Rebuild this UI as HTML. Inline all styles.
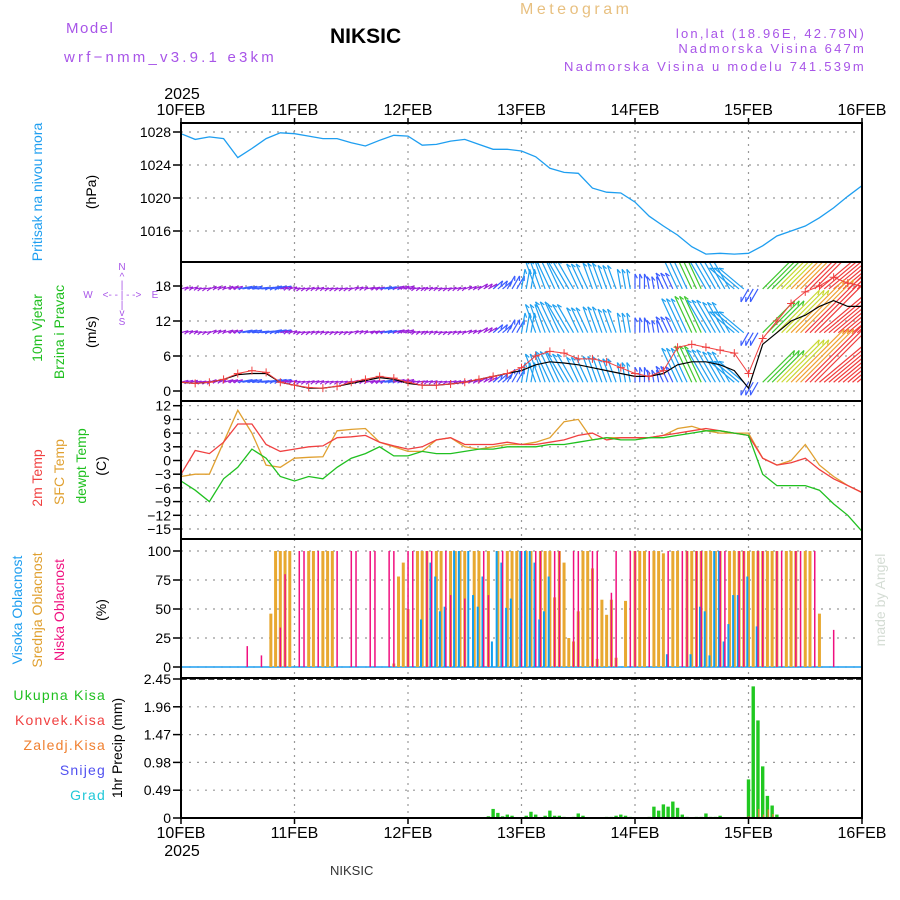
<!DOCTYPE html>
<html>
<head>
<meta charset="utf-8">
<style>
html,body{margin:0;padding:0;background:#fff;}
svg{display:block;}
text{font-family:"Liberation Sans",sans-serif;}
</style>
</head>
<body>
<svg id="chart" width="900" height="900" viewBox="0 0 900 900" xmlns="http://www.w3.org/2000/svg">
  <defs>
    <clipPath id="windclip"><rect x="181" y="263" width="681" height="137"/></clipPath>
  </defs>
  <!-- Header -->
  <text x="66" y="33" font-size="15" fill="#a855e8" letter-spacing="1.5">Model</text>
  <text x="64" y="62" font-size="15" fill="#a855e8" letter-spacing="3.2">wrf−nmm_v3.9.1  e3km</text>
  <text x="330" y="43" font-size="21" font-weight="bold" fill="#000">NIKSIC</text>
  <text x="520" y="14" font-size="16" fill="#e8c080" letter-spacing="3.5">Meteogram</text>
  <text x="866" y="38" font-size="13" fill="#a855e8" text-anchor="end" letter-spacing="2.2">lon,lat (18.96E, 42.78N)</text>
  <text x="866" y="53" font-size="13" fill="#a855e8" text-anchor="end" letter-spacing="2.2">Nadmorska Visina 647m</text>
  <text x="866" y="71" font-size="13" fill="#a855e8" text-anchor="end" letter-spacing="2.3">Nadmorska Visina u modelu 741.539m</text>

  <!-- Left axis titles -->
  <text transform="translate(42,192) rotate(-90)" font-size="14" fill="#1e9ef0" text-anchor="middle">Pritisak na nivou mora</text>
  <text transform="translate(96,192) rotate(-90)" font-size="14" fill="#000" text-anchor="middle">(hPa)</text>
  <text transform="translate(42,328) rotate(-90)" font-size="14" fill="#20c020" text-anchor="middle">10m Vjetar</text>
  <text transform="translate(64,332) rotate(-90)" font-size="14" fill="#20c020" text-anchor="middle">Brzina i Pravac</text>
  <text transform="translate(96,332) rotate(-90)" font-size="14" fill="#000" text-anchor="middle">(m/s)</text>
  <text transform="translate(42,478) rotate(-90)" font-size="14" fill="#f04040" text-anchor="middle">2m Temp</text>
  <text transform="translate(64,472) rotate(-90)" font-size="14" fill="#e0a030" text-anchor="middle">SFC Temp</text>
  <text transform="translate(86,466) rotate(-90)" font-size="14" fill="#20c020" text-anchor="middle">dewpt Temp</text>
  <text transform="translate(106,466) rotate(-90)" font-size="14" fill="#000" text-anchor="middle">(C)</text>
  <text transform="translate(22,610) rotate(-90)" font-size="14" fill="#1e9ef0" text-anchor="middle">Visoka Oblacnost</text>
  <text transform="translate(42,610) rotate(-90)" font-size="14" fill="#e0a030" text-anchor="middle">Srednja Oblacnost</text>
  <text transform="translate(64,610) rotate(-90)" font-size="14" fill="#f0107f" text-anchor="middle">Niska Oblacnost</text>
  <text transform="translate(106,610) rotate(-90)" font-size="14" fill="#000" text-anchor="middle">(%)</text>
  <text transform="translate(122,748) rotate(-90)" font-size="14" fill="#000" text-anchor="middle">1hr Precip (mm)</text>

  <!-- precip legend -->
  <text x="106" y="700" font-size="14" fill="#20c020" text-anchor="end" letter-spacing="1.2">Ukupna Kisa</text>
  <text x="106" y="725" font-size="14" fill="#f04040" text-anchor="end" letter-spacing="1.2">Konvek.Kisa</text>
  <text x="106" y="750" font-size="14" fill="#f08030" text-anchor="end" letter-spacing="1.2">Zaledj.Kisa</text>
  <text x="106" y="775" font-size="14" fill="#5050f0" text-anchor="end" letter-spacing="1.2">Snijeg</text>
  <text x="106" y="800" font-size="14" fill="#20c8d8" text-anchor="end" letter-spacing="1.2">Grad</text>

  <!-- compass -->
  <g fill="#a855e8" font-size="10" text-anchor="middle">
    <text x="122" y="270">N</text>
    <text x="122" y="280">^</text>
    <text x="122" y="288">|</text>
    <text x="88" y="298">W</text>
    <text x="122" y="298">&lt;- - | - -&gt;</text>
    <text x="155" y="298">E</text>
    <text x="122" y="308">|</text>
    <text x="122" y="316">v</text>
    <text x="122" y="325">S</text>
  </g>

  <text transform="translate(885,600) rotate(-90)" font-size="14" fill="#d4dcd4" text-anchor="middle" font-family="Liberation Serif, serif">made by Angel</text>
  <text x="330" y="875" font-size="13" fill="#333" font-family="Liberation Serif, serif">NIKSIC</text>

  <g id="plot"></g>
</svg>
<script>
// ---------------- DATA ----------------
const days = ["10FEB","11FEB","12FEB","13FEB","14FEB","15FEB","16FEB"];
const stepHours = 3;
const pressure = [1027.8,1027.1,1027.4,1027.2,1024.9,1026.0,1027.2,1027.9,
 1027.8,1027.5,1027.2,1027.2,1026.7,1026.3,1027.0,1027.6,
 1027.5,1026.4,1026.5,1026.9,1027.1,1026.5,1025.9,1025.9,
 1025.7,1025.0,1023.6,1023.1,1023.0,1021.2,1020.7,1020.6,
 1019.5,1017.8,1016.6,1015.5,1014.1,1013.2,1013.3,1013.2,
 1013.3,1014.2,1015.4,1016.0,1016.6,1017.6,1018.8,1020.2,1021.5];
const windSpeed = [1.5,1.3,1.5,2.0,3.0,3.5,3.2,1.5,
 1.0,0.6,0.5,0.8,1.5,2.0,2.5,2.2,
 1.5,1.0,1.0,1.2,1.5,2.0,2.5,3.0,
 4.0,6.0,6.8,6.5,5.5,5.5,5.0,4.0,
 3.0,2.5,3.5,7.5,8.0,7.5,7.0,6.5,
 3.0,9.0,12.0,15.0,17.0,18.0,19.5,18.5,18.0];
const windSpeed2 = [1.5,1.3,1.5,2.0,2.8,3.0,3.0,1.5,
 1.0,0.5,0.5,0.8,1.3,1.8,2.3,2.0,
 1.3,1.0,1.0,1.2,1.5,2.0,2.5,3.0,
 3.5,4.5,5.0,4.8,4.5,4.0,3.5,3.0,
 2.5,2.5,3.0,4.5,5.0,5.0,4.5,3.5,
 0.5,8.0,10.0,12.0,13.0,14.5,15.5,14.5,14.5];
const windDir = [15,10,20,15,10,5,10,15,
 10,15,10,10,15,10,10,15,
 10,15,10,15,20,30,40,60,
 80,110,115,120,115,110,110,100,
 90,100,115,115,115,120,120,140,
 240,45,45,45,45,40,40,40,40];
const windRows = [17.5, 10, 1.5];
const temp2m = [-3,2.2,1.5,4.0,8.0,8.0,3.5,2.0,
 2.5,3.0,3.2,5.0,5.2,5.5,4.0,3.2,
 2.5,3.0,4.5,5.0,3.5,3.5,3.5,4.0,
 3.5,3.5,4.0,4.5,5.5,6.0,4.5,5.0,
 5.0,5.0,5.5,6.0,6.5,7.0,6.5,6.0,
 5.5,0.5,-1,-0.5,0.5,-2,-4,-5.5,-7];
const tempSfc = [-3.5,-3,-3,4,11,6,-1,-1.5,
 0.5,0.7,0.8,6.5,6.8,7.0,4.0,3.0,
 2.0,2.0,4.5,5.0,3.0,2.5,3.0,3.5,
 3.5,4.0,5.0,8.5,9.0,4.5,5.0,5.0,
 5.0,5.0,5.5,7.0,7.5,6.5,6.0,6.0,
 6,0.5,-1,0,3.5,-1,-3.5,-5.5,-7];
const tempDew = [-4.5,-6.5,-9,-4,-1.5,2.5,0.5,-3.5,
 -4.5,-3.5,-4.0,-1.5,0.5,1.5,3.0,1.0,
 1.0,2.0,1.5,1.5,2.0,2.5,2.5,3.0,
 3.0,3.0,3.5,3.5,4.0,4.5,5.0,4.5,
 4.5,5.0,5.0,5.5,6.0,6.5,6.5,6.0,
 5.5,-3,-5.5,-5.5,-5.5,-6.5,-9.5,-12,-15.5];
// cloud cover (hour index from 10FEB 00 / percent)
const midHours = [19,20,21,22,23,27,28,30,31,32,45,46,47,48,50,51,52,54,55,57,58,59,60,62,63,65,67,69,70,71,
 73,74,76,77,78,79,80,81,82,83,84,85,86,87,88,89,90,91,92,94,96,97,98,100,101,102,104,105,107,108,109,110,111,112,113,114,116,117,118,119,120,121,122,123,124,125,126,128,129,130,132,133,135];
const midVals = [46,100,100,100,100,100,100,100,100,100,3,78,90,50,100,100,100,100,100,100,100,100,100,100,100,100,100,100,100,100,
 100,100,100,100,100,60,100,90,25,22,48,100,100,85,7,58,45,58,8,57,100,100,100,100,100,98,100,100,100,100,100,100,100,100,100,100,100,100,100,100,100,100,100,100,100,100,100,100,100,100,100,100,46];
const lowHours = [14,17,21,22,25,26,29,33,36,37,40,41,44,45,48,49,52,53,56,57,60,64,65,68,72,75,76,79,80,83,84,87,88,91,92,95,96,99,103,106,107,109,110,114,115,118,119,122,123,126,127,130,131,134,138];
const lowVals = [18,10,34,80,100,100,100,100,100,100,100,100,100,100,100,100,100,100,100,62,59,100,62,100,100,100,100,100,100,100,100,100,100,64,100,100,100,100,100,100,100,100,100,100,100,100,100,100,100,100,100,100,100,100,32];
const highHours = [51,53,54,55,56,58,59,61,62,63,64,66,67,68,69,70,72,73,74,75,76,77,78,103,108,110,111,112,113,114,115,116,117,118,120,122];
const highVals = [41,90,78,48,52,100,100,100,62,52,78,22,100,90,51,59,100,100,100,90,41,48,78,11,11,52,48,10,100,100,22,37,62,62,78,35];
// hourly precipitation (hour index / mm)
const precipHours = [65,66,67,68,69,70,73,74,75,77,78,79,80,81,83,84,85,90,91,92,93,94,95,99,100,101,102,103,104,105,106,107,109,110,111,112,113,114,120,121,122,123,124,125,126];
const precipTotal = [0.03,0.16,0.09,0.03,0.06,0.04,0.04,0.11,0.06,0.04,0.13,0.04,0.04,0.02,0.02,0.08,0.04,0.02,0.02,0.04,0.06,0.04,0.02,0.02,0.2,0.13,0.24,0.2,0.29,0.18,0.06,0.02,0.02,0.02,0.08,0.02,0.02,0.04,0.68,2.32,1.72,0.91,0.39,0.22,0.06];
const freezeHours = [122,123,124,125];
const freezeVals = [0.16,0.06,0.15,0.07];
const convHours = [120];
const convVals = [0.03];

const pTicks = [1016,1020,1024,1028];
const wTicks = [0,6,12,18];
const tTicks = [-15,-12,-9,-6,-3,0,3,6,9,12];
const cTicks = [0,25,50,75,100];
const rTicks = [0,0.49,0.98,1.47,1.96,2.45];

// ---------------- GEOMETRY ----------------
const X0 = 181, X1 = 862, NH = 144;
const X = h => X0 + h * (X1 - X0) / NH;
const Yp = v => 132 + (1028 - v) * 8.25;
const Yw = v => 391 - v * 35 / 6;
const Yt = v => 405.7 + (12 - v) * 13.7 / 3;
const Yc = v => 667 - v * 1.16;
const Yr = v => 818 - v * 139 / 2.45;

const NS = "http://www.w3.org/2000/svg";
const plot = document.getElementById('plot');
function mk(tag, attrs, name, parent) {
  const e = document.createElementNS(NS, tag);
  for (const k in attrs) e.setAttribute(k, attrs[k]);
  
  
  (parent || plot).appendChild(e);
  return e;
}

const panels = [
  {name:'pressure', top:123, bot:262, ticks:pTicks, y:Yp, fmt:v=>String(v)},
  {name:'wind', top:262, bot:401, ticks:wTicks, y:Yw, fmt:v=>String(v)},
  {name:'temperature', top:401, bot:539, ticks:tTicks, y:Yt, fmt:v=>v<0?'−'+Math.abs(v):String(v)},
  {name:'cloud', top:539, bot:678, ticks:cTicks, y:Yc, fmt:v=>String(v)},
  {name:'precip', top:678, bot:818, ticks:rTicks, y:Yr, fmt:v=>v===0?'0':v.toFixed(2)}
];

// grids & ticks
panels.forEach(p => {
  const g = mk('g', {}, p.name + '-axes');
  for (let d = 0; d <= 6; d++) {
    mk('line', {x1:X(d*24), x2:X(d*24), y1:p.top, y2:p.bot, stroke:'#999', 'stroke-width':1.2, 'stroke-dasharray':'2,5'}, p.name + '-vgrid', g);
  }
  p.ticks.forEach(t => {
    const y = p.y(t);
    mk('line', {x1:X0, x2:X1, y1:y, y2:y, stroke:'#999', 'stroke-width':1.2, 'stroke-dasharray':'2,6'}, p.name + '-hgrid', g);
    mk('line', {x1:X0-8, x2:X0, y1:y, y2:y, stroke:'#000', 'stroke-width':1.5}, p.name + '-tick', g);
    const tx = mk('text', {x:X0-10, y:y+5, 'font-size':14, 'text-anchor':'end', fill:'#000'}, p.name + '-tick-label', g);
    tx.textContent = p.fmt(t);
  });
});

// pressure line
let d = pressure.map((v,i) => (i?'L':'M') + X(i*stepHours).toFixed(1) + ',' + Yp(v).toFixed(1)).join('');
mk('path', {d:d, fill:'none', stroke:'#1e9ef0', 'stroke-width':1.3}, 'pressure-line');

// wind barbs
function windColor(s){
  if (s < 2.5) return '#9b20d9';
  if (s < 4) return '#3a5cff';
  if (s < 8) return '#1fa0f0';
  if (s < 10) return '#40c830';
  if (s < 13) return '#c8d830';
  if (s < 16) return '#f0a030';
  return '#f03c3c';
}
const windG = mk('g', {'clip-path':'url(#windclip)'}, 'wind-barbs');
windRows.forEach((lvl, r) => {
  windSpeed.forEach((s, i) => {
    if (i === windSpeed.length - 1) return;
    const a = windDir[i] * Math.PI / 180;
    const L = Math.max(s * 5, 6);
    for (let k = 0; k < 3; k++) {
      const x = X(i*stepHours + k);
      const y = Yw(lvl);
      const x2 = x + Math.cos(a) * L, y2 = y - Math.sin(a) * L;
      mk('line', {x1:x, y1:y, x2:x2, y2:y2, stroke:windColor(s), 'stroke-width':1.2}, 'wind-barb', windG);
      mk('line', {x1:x2, y1:y2, x2:x2 - Math.cos(a+0.5)*5, y2:y2 + Math.sin(a+0.5)*5, stroke:windColor(s), 'stroke-width':1.2}, 'wind-barb-head', windG);
    }
  });
});
const lineG = mk('g', {'clip-path':'url(#windclip)'}, 'wind-speed-lines');
d = windSpeed2.map((v,i) => (i?'L':'M') + X(i*stepHours).toFixed(1) + ',' + Yw(v).toFixed(1)).join('');
mk('path', {d:d, fill:'none', stroke:'#000', 'stroke-width':1.2}, 'wind-speed-line-black', lineG);
d = windSpeed.map((v,i) => (i?'L':'M') + X(i*stepHours).toFixed(1) + ',' + Yw(v).toFixed(1)).join('');
mk('path', {d:d, fill:'none', stroke:'#f04040', 'stroke-width':1}, 'wind-speed-line-red', lineG);
windSpeed.forEach((v,i) => {
  const x = X(i*stepHours), y = Yw(v);
  mk('path', {d:`M${x-4},${y}H${x+4}M${x},${y-4}V${y+4}`, stroke:'#f04040', 'stroke-width':1}, 'wind-speed-marker', lineG);
});

// temperatures
[[tempSfc,'#e0a030','temp-sfc-line'],[temp2m,'#f04040','temp-2m-line'],[tempDew,'#20c020','temp-dewpt-line']].forEach(s => {
  const dd = s[0].map((v,i) => (i?'L':'M') + X(i*stepHours).toFixed(1) + ',' + Yt(v).toFixed(1)).join('');
  mk('path', {d:dd, fill:'none', stroke:s[1], 'stroke-width':1.3}, s[2]);
});

// clouds
mk('line', {x1:X0, x2:X1, y1:Yc(0), y2:Yc(0), stroke:'#1e9ef0', 'stroke-width':1.5}, 'cloud-baseline');
midHours.forEach((h,i) => {
  const y = Yc(midVals[i]);
  mk('rect', {x:X(h)-1.5, y:y, width:3, height:Yc(0)-y, fill:'#e8a830'}, 'cloud-mid-bar');
});
highHours.forEach((h,i) => {
  const y = Yc(highVals[i]);
  mk('rect', {x:X(h)-2.2, y:y, width:2, height:Yc(0)-y, fill:'#10a0f0'}, 'cloud-high-bar');
});
lowHours.forEach((h,i) => {
  const y = Yc(lowVals[i]);
  mk('rect', {x:X(h)-0.7, y:y, width:1.5, height:Yc(0)-y, fill:'#f0107f'}, 'cloud-low-bar');
});

// precipitation
precipHours.forEach((h,i) => {
  const y = Yr(precipTotal[i]);
  mk('rect', {x:X(h)-1.7, y:y, width:3.4, height:Yr(0)-y, fill:'#20c820'}, 'precip-total-bar');
});
freezeHours.forEach((h,i) => {
  const y = Yr(freezeVals[i]);
  mk('rect', {x:X(h)+0.2, y:y, width:1.2, height:Yr(0)-y, fill:'#f08030'}, 'precip-freezing-bar');
});
convHours.forEach((h,i) => {
  const y = Yr(convVals[i]);
  mk('rect', {x:X(h)-0.5, y:y, width:1.5, height:Yr(0)-y, fill:'#f04040'}, 'precip-convective-bar');
});

// frames
panels.forEach(p => {
  mk('rect', {x:X0, y:p.top, width:X1-X0, height:p.bot-p.top, fill:'none', stroke:'#000', 'stroke-width':2}, p.name + '-frame');
});
mk('line', {x1:X0, x2:X1, y1:Yr(2.45), y2:Yr(2.45), stroke:'#000', 'stroke-width':1.5, 'stroke-dasharray':'6,3'}, 'precip-top-line');

// date labels
days.forEach((lab, i) => {
  const x = X(i*24);
  const t1 = mk('text', {x:x, y:115, 'font-size':16, 'text-anchor':'middle', fill:'#000'}, 'top-date-label');
  t1.textContent = lab;
  const t2 = mk('text', {x:x, y:838, 'font-size':16, 'text-anchor':'middle', fill:'#000'}, 'bottom-date-label');
  t2.textContent = lab;
  mk('line', {x1:x, x2:x, y1:118, y2:123, stroke:'#000', 'stroke-width':1.5}, 'top-date-tick');
  mk('line', {x1:x, x2:x, y1:818, y2:824, stroke:'#000', 'stroke-width':1.5}, 'bottom-date-tick');
});
const y1 = mk('text', {x:182, y:99, 'font-size':16, 'text-anchor':'middle', fill:'#000'}, 'top-year-label');
y1.textContent = '2025';
const y2 = mk('text', {x:182, y:856, 'font-size':16, 'text-anchor':'middle', fill:'#000'}, 'bottom-year-label');
y2.textContent = '2025';
</script>
</body>
</html>
